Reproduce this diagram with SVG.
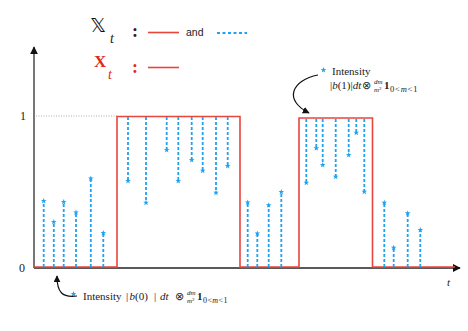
<svg xmlns="http://www.w3.org/2000/svg" width="468" height="331" viewBox="0 0 468 331">
<style>
.serif{font-family:"Liberation Serif","Times New Roman",serif;fill:#222}
.it{font-style:italic}
.pt{fill:none;stroke:#1fa2f0;stroke-width:1.8;stroke-dasharray:3 2;marker-end:url(#star)}
.red{fill:none;stroke:#e8453c;stroke-width:1.6}
</style>
<defs>
<path id="starShape" d="M0,-3 L0.71,-0.97 L2.85,-0.93 L1.14,0.37 L1.76,2.43 L0,1.2 L-1.76,2.43 L-1.14,0.37 L-2.85,-0.93 L-0.71,-0.97 Z" fill="#1fa2f0"/>
<marker id="star" viewBox="-3.5 -3.5 7 7" markerWidth="7" markerHeight="7" refX="0" refY="0" markerUnits="userSpaceOnUse" orient="0">
<use href="#starShape"/>
</marker>
<marker id="axArrow" viewBox="0 0 10 10" markerWidth="8" markerHeight="8" refX="9" refY="5" markerUnits="userSpaceOnUse" orient="auto">
<path d="M0,0 L10,5 L0,10 Z" fill="#111"/>
</marker>
<marker id="annArrow" viewBox="0 0 10 10" markerWidth="7" markerHeight="7" refX="9" refY="5" markerUnits="userSpaceOnUse" orient="auto">
<path d="M0,0 L10,5 L0,10 Z" fill="#111"/>
</marker>
</defs>

<g id="legend">
<text x="90" y="32" font-family="DejaVu Sans, sans-serif" font-size="20" fill="#111">𝕏</text>
<text x="110" y="43" class="serif it" font-size="14">t</text>
<text x="132" y="37" class="serif" font-size="18" font-weight="bold">:</text>
<line x1="148" y1="32.5" x2="179" y2="32.5" class="red"/>
<text x="186" y="36" font-family="Liberation Sans, Arial, sans-serif" font-size="10.5" fill="#222">and</text>
<line x1="217" y1="33" x2="247" y2="33" stroke="#1fa2f0" stroke-width="1.8" stroke-dasharray="3 2.5"/>
<text x="94" y="67" font-family="Liberation Serif, serif" font-weight="bold" font-size="17" fill="#e02a20">X</text>
<text x="108" y="79" font-family="Liberation Serif, serif" font-style="italic" font-size="14" fill="#e02a20">t</text>
<text x="132" y="73" font-family="Liberation Serif, serif" font-size="18" font-weight="bold" fill="#e02a20">:</text>
<line x1="148" y1="67.5" x2="179" y2="67.5" class="red"/>
</g>

<g id="axes">
<line x1="34" y1="268" x2="34" y2="47" stroke="#555" stroke-width="1.6" marker-end="url(#axArrow)"/>
<line x1="34" y1="268" x2="460" y2="268" stroke="#222" stroke-width="1.6" marker-end="url(#axArrow)"/>
<line x1="36" y1="116" x2="117" y2="116" stroke="#999" stroke-width="0.8" stroke-dasharray="1 1.5"/>
<text x="20" y="120" class="serif" font-size="12">1</text>
<text x="19" y="272" class="serif" font-size="12">0</text>
<text x="447" y="286" class="serif it" font-size="11">t</text>
</g>

<g id="step">
<path class="red" d="M34,267 H117 V116.5 H240 V267 H299 V118 H372.5 V267 H455"/>
</g>

<g id="points">
<line class="pt" x1="43.7" y1="267" x2="43.7" y2="201"/>
<line class="pt" x1="53.8" y1="267" x2="53.8" y2="222"/>
<line class="pt" x1="63.7" y1="267" x2="63.7" y2="202"/>
<line class="pt" x1="76" y1="267" x2="76" y2="212.5"/>
<line class="pt" x1="90.8" y1="267" x2="90.8" y2="178.5"/>
<line class="pt" x1="103.3" y1="267" x2="103.3" y2="233"/>

<line class="pt" x1="128" y1="117" x2="128" y2="181"/>
<line class="pt" x1="146" y1="117" x2="146" y2="202.7"/>
<line class="pt" x1="166.7" y1="117" x2="166.7" y2="150"/>
<line class="pt" x1="178.3" y1="117" x2="178.3" y2="181"/>
<line class="pt" x1="191.7" y1="117" x2="191.7" y2="160"/>
<line class="pt" x1="202.7" y1="117" x2="202.7" y2="170.7"/>
<line class="pt" x1="216" y1="117" x2="216" y2="192.7"/>
<line class="pt" x1="227.7" y1="117" x2="227.7" y2="166"/>

<line class="pt" x1="247.7" y1="267" x2="247.7" y2="202.5"/>
<line class="pt" x1="257.3" y1="267" x2="257.3" y2="233.5"/>
<line class="pt" x1="268.7" y1="267" x2="268.7" y2="205.3"/>
<line class="pt" x1="281.3" y1="267" x2="281.3" y2="192"/>

<line class="pt" x1="306.3" y1="119" x2="306.3" y2="182.7"/>
<line class="pt" x1="316.3" y1="119" x2="316.3" y2="148.3"/>
<line class="pt" x1="322.7" y1="119" x2="322.7" y2="165"/>
<line class="pt" x1="335.7" y1="119" x2="335.7" y2="176.7"/>
<line class="pt" x1="348.7" y1="119" x2="348.7" y2="155"/>
<line class="pt" x1="356.3" y1="119" x2="356.3" y2="132.7"/>
<line class="pt" x1="364.3" y1="119" x2="364.3" y2="191.7"/>

<line class="pt" x1="384.3" y1="267" x2="384.3" y2="202.7"/>
<line class="pt" x1="393.7" y1="267" x2="393.7" y2="247.7"/>
<line class="pt" x1="407.7" y1="267" x2="407.7" y2="213.3"/>
<line class="pt" x1="420.3" y1="267" x2="420.3" y2="230"/>
</g>

<g id="annotation-b1">
<use href="#starShape" x="323.5" y="70"/>
<text x="332" y="75" class="serif" font-size="11">Intensity</text>
<text x="330" y="89" class="serif" font-size="11">|<tspan class="it">b</tspan>(1)|<tspan class="it">dt</tspan><tspan dx="1">⊗</tspan></text>
<text x="374" y="84" class="serif it" font-size="7">dm</text>
<text x="374" y="92" class="serif" font-size="7"><tspan class="it">m</tspan><tspan font-size="5" dy="-2">2</tspan></text>
<text x="384" y="89" class="serif" font-size="11" font-weight="bold">1</text>
<text x="390" y="92" class="serif" font-size="8.5" letter-spacing="0.8"><tspan>0&lt;</tspan><tspan class="it">m</tspan><tspan>&lt;1</tspan></text>
<path d="M318,75 C292,80 283,100 309,113" fill="none" stroke="#111" stroke-width="1.2" marker-end="url(#annArrow)"/>
</g>

<g id="annotation-b0">
<use href="#starShape" x="73.5" y="294"/>
<text x="83" y="300" class="serif" font-size="11">Intensity</text>
<text y="300" class="serif" font-size="11"><tspan x="126">|</tspan><tspan x="129.5" class="it">b</tspan><tspan>(0)</tspan><tspan x="154">|</tspan><tspan x="160" class="it">dt</tspan><tspan x="175">⊗</tspan></text>
<text x="187" y="295" class="serif it" font-size="7">dm</text>
<text x="187" y="303" class="serif" font-size="7"><tspan class="it">m</tspan><tspan font-size="5" dy="-2">2</tspan></text>
<text x="197" y="300" class="serif" font-size="11" font-weight="bold">1</text>
<text x="203" y="303" class="serif" font-size="8" letter-spacing="0.4"><tspan>0&lt;</tspan><tspan class="it">m</tspan><tspan>&lt;1</tspan></text>
<path d="M77,296 C62,298 57,292 57,276" fill="none" stroke="#111" stroke-width="1.2" marker-end="url(#annArrow)"/>
</g>
</svg>
